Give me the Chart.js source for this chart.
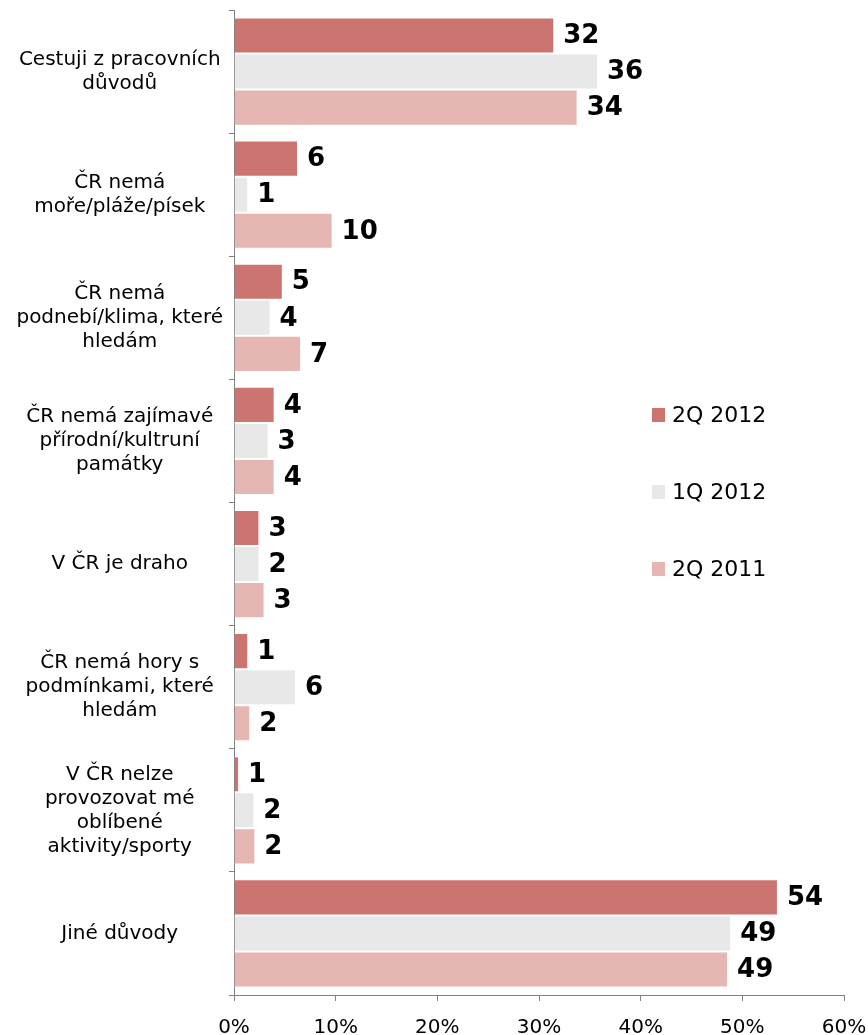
<!DOCTYPE html>
<html>
<head>
<meta charset="utf-8">
<script src="https://cdn.jsdelivr.net/npm/chart.js@4/dist/chart.umd.min.js"></script>
<style>
html, body { margin: 0; padding: 0; background: #fff; }
</style>
</head>
<body>
<canvas id="chart" width="868" height="1035"></canvas>
<script>
// Data
const categories = [
    ["Cestuji z pracovních", "důvodů"],
    ["ČR nemá", "moře/pláže/písek"],
    ["ČR nemá", "podnebí/klima, které", "hledám"],
    ["ČR nemá zajímavé", "přírodní/kultruní", "památky"],
    "V ČR je draho",
    ["ČR nemá hory s", "podmínkami, které", "hledám"],
    ["V ČR nelze", "provozovat mé", "oblíbené", "aktivity/sporty"],
    "Jiné důvody"
];

const seriesNames = ["2Q 2012", "1Q 2012", "2Q 2011"];

const values2Q2012 = [31.5, 6.3, 4.8, 4.0, 2.5, 1.4, 0.5, 53.5];
const values1Q2012 = [35.8, 1.4, 3.6, 3.4, 2.5, 6.1, 2.0, 48.9];
const values2Q2011 = [33.8, 9.7, 6.6, 4.0, 3.0, 1.6, 2.1, 48.6];

const labels2Q2012 = [32, 6, 5, 4, 3, 1, 1, 54];
const labels1Q2012 = [36, 1, 4, 3, 2, 6, 2, 49];
const labels2Q2011 = [34, 10, 7, 4, 3, 2, 2, 49];

const xTicks = [0, 10, 20, 30, 40, 50, 60];

const FONT = "Verdana, 'DejaVu Sans', sans-serif";

// value labels at bar ends
const valueLabels = {
    id: "valueLabels",
    afterDatasetsDraw(chart) {
        const ctx = chart.ctx;
        ctx.save();
        ctx.font = "bold 26px " + FONT;
        ctx.fillStyle = "#000";
        ctx.textAlign = "left";
        ctx.textBaseline = "middle";
        chart.data.datasets.forEach((ds, i) => {
            chart.getDatasetMeta(i).data.forEach((bar, j) => {
                ctx.fillText(String(ds.valueLabels[j]), bar.x + 9, bar.y + 1);
            });
        });
        ctx.restore();
    }
};

// legend inside the plot, right side
const insideLegend = {
    id: "insideLegend",
    afterDraw(chart) {
        const ctx = chart.ctx;
        const area = chart.chartArea;
        ctx.save();
        ctx.font = "22px " + FONT;
        ctx.textAlign = "left";
        ctx.textBaseline = "middle";
        chart.data.datasets.forEach((ds, i) => {
            const x = area.left + 418;
            const y = area.top + 405 + i * 77;
            ctx.fillStyle = ds.backgroundColor;
            ctx.fillRect(x, y - 7, 13, 14);
            ctx.fillStyle = "#000";
            ctx.fillText(ds.label, x + 20, y + 1);
        });
        ctx.restore();
    }
};

const ctx = document.getElementById("chart").getContext("2d");

const chart = new Chart(ctx, {
    type: "bar",
    data: {
        labels: categories,
        datasets: [
            {
                label: seriesNames[0],
                data: values2Q2012,
                valueLabels: labels2Q2012,
                backgroundColor: "#CC7470"
            },
            {
                label: seriesNames[1],
                data: values1Q2012,
                valueLabels: labels1Q2012,
                backgroundColor: "#E8E8E8"
            },
            {
                label: seriesNames[2],
                data: values2Q2011,
                valueLabels: labels2Q2011,
                backgroundColor: "#E6B6B2"
            }
        ]
    },
    options: {
        indexAxis: "y",
        responsive: false,
        animation: false,
        layout: {
            padding: { top: 10, right: 24, left: 0, bottom: 0 }
        },
        datasets: {
            bar: {
                categoryPercentage: 0.88,
                barPercentage: 1.0,
                borderColor: "#ffffff",
                borderWidth: 1
            }
        },
        plugins: {
            legend: { display: false },
            tooltip: { enabled: false }
        },
        scales: {
            x: {
                min: 0,
                max: 60,
                afterBuildTicks: scale => {
                    scale.ticks = xTicks.map(v => ({ value: v }));
                },
                ticks: {
                    callback: v => v + "%",
                    color: "#000",
                    font: { family: FONT, size: 20 },
                    padding: 15,
                    maxRotation: 0
                },
                grid: {
                    drawOnChartArea: false,
                    tickLength: 6,
                    color: "#808080"
                },
                border: { color: "#808080" },
                afterFit: scale => {
                    scale.height = 40;
                    scale.paddingLeft = 0;
                    scale.paddingRight = 0;
                }
            },
            y: {
                ticks: {
                    crossAlign: "center",
                    color: "#000",
                    font: { family: FONT, size: 20, lineHeight: 1.2 },
                    padding: 6,
                    autoSkip: false
                },
                grid: {
                    drawOnChartArea: false,
                    tickLength: 5,
                    color: "#808080",
                    offset: true
                },
                border: { color: "#808080" },
                afterFit: scale => {
                    scale.width = 234;
                    scale.paddingTop = 0;
                    scale.paddingBottom = 0;
                }
            }
        }
    },
    plugins: [valueLabels, insideLegend]
});
</script>
</body>
</html>
